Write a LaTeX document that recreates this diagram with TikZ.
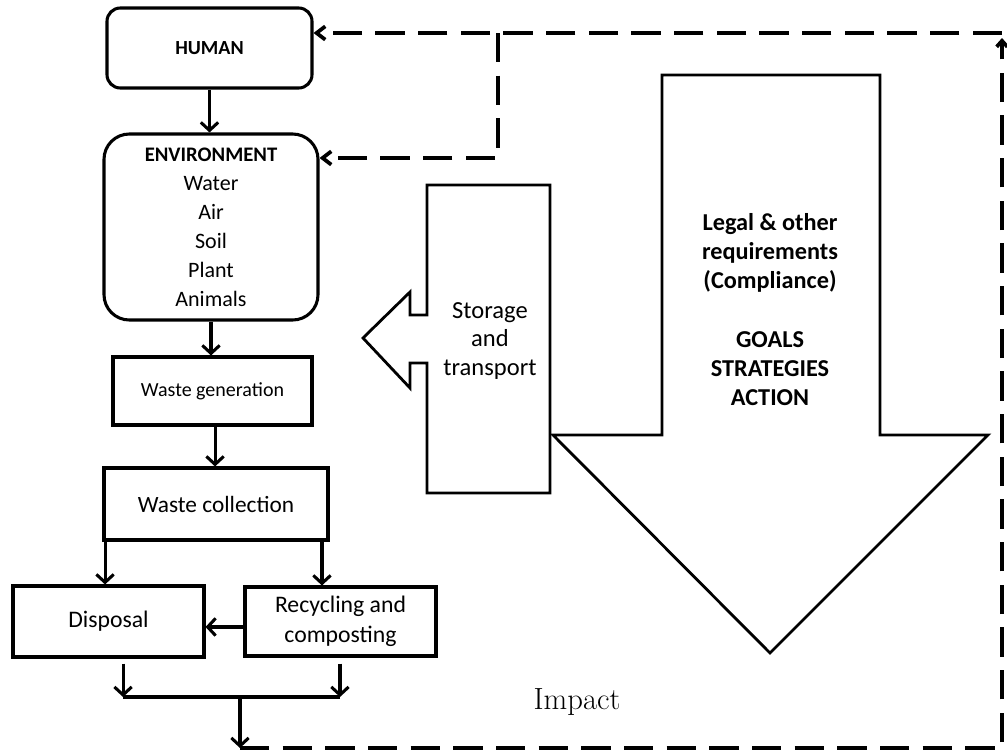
\documentclass[tikz,border=0pt]{standalone}
\usepackage{fontspec}
\newfontfamily\calfont{Carlito}
\usetikzlibrary{arrows.meta}
\begin{document}
\begin{tikzpicture}[x=0.75pt,y=-0.75pt,
  box/.style={draw, line width=2.3pt, inner sep=0pt, align=center},
  arr/.style={line width=2.3pt, -{Straight Barb[length=6pt,width=13pt]}},
  fbdash/.style={line width=2.8pt, dash pattern=on 22pt off 10pt},
  fbtip/.style={-{Straight Barb[length=6.5pt,width=10pt]}},
  outline/.style={line width=2.1pt, line join=miter}]
\useasboundingbox (0,0) rectangle (1007,753);

% flow boxes
\node[box, rounded corners=10pt, minimum width=153.75pt, minimum height=60pt,
  font=\calfont\bfseries\fontsize{15}{18}\selectfont] (human) at (209.5,48) {HUMAN};
\node[box, rounded corners=19pt, minimum width=160.5pt, minimum height=139.5pt,
  font=\calfont\fontsize{16.5}{21.7}\selectfont] (env) at (211,227)
  {{\bfseries\fontsize{15.5}{21.7}\selectfont ENVIRONMENT}\\Water\\Air\\Soil\\Plant\\Animals};
\node[box, minimum width=149.25pt, minimum height=51pt,
  font=\calfont\fontsize{15}{18}\selectfont] (wg) at (212.5,391) {Waste generation};
\node[box, minimum width=168pt, minimum height=54pt,
  font=\calfont\fontsize{17.5}{21}\selectfont] (wc) at (216,504) {Waste collection};
\node[box, minimum width=143.25pt, minimum height=53.25pt,
  font=\calfont\fontsize{17.8}{22}\selectfont] (disp) at (108.5,621.5) {Disposal};
\node[box, minimum width=143.25pt, minimum height=51.75pt,
  font=\calfont\fontsize{17.8}{22.5}\selectfont] (recyc) at (340.5,621.5) {Recycling and\\composting};

% block arrows
\draw[outline] (662,75) -- (880,75) -- (880,435) -- (988,435) -- (770,653)
  -- (553,435) -- (662,435) -- cycle;
\draw[outline] (427,185) -- (550,185) -- (550,493) -- (427,493) -- (427,363)
  -- (410,363) -- (410,388) -- (363,338) -- (410,292) -- (410,315) -- (427,315) -- cycle;

\node[font=\calfont\fontsize{18.4}{21.4}\selectfont, align=center] (stor) at (490,341)
  {Storage\\and\\transport};
\node[font=\calfont\bfseries\fontsize{18.2}{21.8}\selectfont, align=center] (req) at (770,309.5)
  {Legal \& other\\requirements\\(Compliance)\\[21.8pt]GOALS\\STRATEGIES\\ACTION};
\node[font=\fontsize{23}{28}\selectfont] (impact) at (577,702) {Impact};

% solid connectors
\draw[arr] (human.south) -- (human.south |- env.north);
\draw[arr] (env.south) -- (env.south |- wg.north);
\coordinate (g1) at ([xshift=1.9pt]wg.south);
\draw[arr] (g1) -- (g1 |- wc.north);
\coordinate (w1) at ([xshift=-2.6pt]disp.north);
\coordinate (w2) at ([xshift=-13.9pt]recyc.north);
\draw[arr] (w1 |- wc.south) -- (w1);
\draw[arr] (w2 |- wc.south) -- (w2);
\coordinate (r1) at ([yshift=-4.1pt]recyc.west);
\draw[arr] (r1) -- (r1 -| disp.east);

\coordinate (d1) at ([xshift=10.9pt,yshift=-3.75pt]disp.south);
\coordinate (d2) at ([xshift=-0.4pt,yshift=-4.5pt]recyc.south);
\coordinate (jm) at (240,697);
\coordinate (loop0) at (240,748);
\draw[line width=2.3pt] (d1 |- jm) -- (d2 |- jm);
\draw[arr] (d1) -- (d1 |- jm);
\draw[arr] (d2) -- (d2 |- jm);
\draw[arr] (jm) -- (loop0);

% feedback loop
\coordinate (c2) at (1002,748);
\coordinate (c3) at (1002,38);
\coordinate (c4) at (1002,33);
\coordinate (c5) at (498,33);
\coordinate (c6) at (498,158);
\draw[fbdash, -{Straight Barb[length=4.5pt,width=8pt]}] (loop0) -- (c2) -- (c3);
\draw[fbdash, fbtip] (c4) -- (c4 -| human.east);
\draw[fbdash, fbtip] (c5) -- (c6) -- (c6 -| env.east);
\end{tikzpicture}
\end{document}
